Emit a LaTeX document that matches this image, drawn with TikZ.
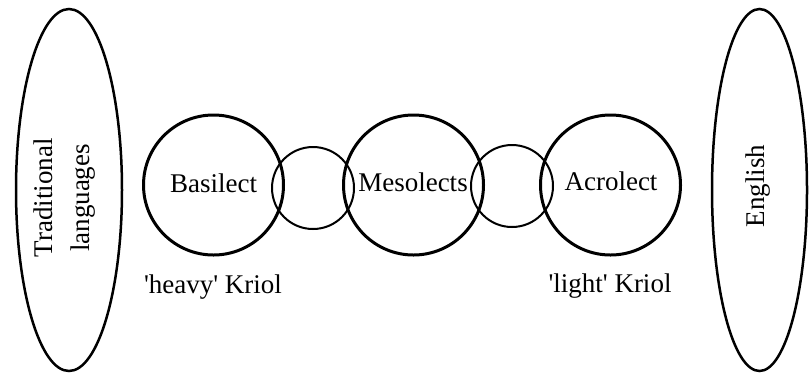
\documentclass[tikz,border=0pt]{standalone}
\usepackage{fontspec}
\setmainfont[Ligatures=TeXOff]{Liberation Serif}
\usetikzlibrary{shapes.geometric}
\begin{document}
\begin{tikzpicture}[x=1pt,y=-1pt,
  bigc/.style={circle,draw,line width=3pt,minimum size=140pt,inner sep=0pt},
  smallc/.style={circle,draw,line width=2pt,minimum size=82pt,inner sep=0pt},
  oval/.style={ellipse,draw,line width=2.5pt,inner sep=0pt},
  lbl/.style={font=\fontsize{27}{36}\selectfont,inner sep=0pt,anchor=base},
  vlbl/.style={font=\fontsize{27}{37}\selectfont,inner sep=0pt,align=center,rotate=90}]
\useasboundingbox (0,0) rectangle (810,376);
\node[oval,minimum width=106pt,minimum height=362pt] (trad) at (69,190) {};
\node[oval,minimum width=95pt,minimum height=362pt] (eng) at (759.5,190) {};
\node[smallc] (s1) at (313,188) {};
\node[smallc] (s2) at (512,186) {};
\node[bigc] (bas) at (213.5,185) {};
\node[bigc] (mes) at (413.5,185) {};
\node[bigc] (acr) at (610.5,185) {};
\node[lbl] (tbas) at (213.5,192) {Basilect};
\node[lbl] (tmes) at (413,191) {Mesolects};
\node[lbl] (tacr) at (611,190) {Acrolect};
\node[lbl] (heavy) at (213,293) {'heavy' Kriol};
\node[lbl] (light) at (610,292) {'light' Kriol};
\node[vlbl] (ttrad) at (65,198) {Traditional\\languages};
\node[vlbl] (teng) at (758,186) {English};
\end{tikzpicture}
\end{document}
